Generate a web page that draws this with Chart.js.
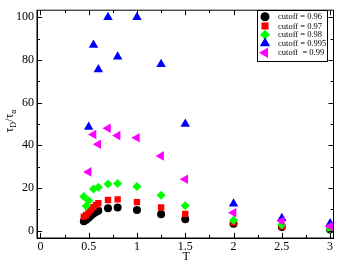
<!DOCTYPE html>
<html>
<head>
<meta charset="utf-8">
<script src="https://cdn.jsdelivr.net/npm/chart.js@4.4.1/dist/chart.umd.min.js"></script>
<style>
  html, body { margin: 0; padding: 0; background: #fff; overflow: hidden; }
  canvas { display: block; }
</style>
</head>
<body>
<canvas id="scatter" width="339" height="262"></canvas>
<script>
// temperatures and tau_D / tau_alpha for each cutoff
var tDense = [0.45, 0.475, 0.5, 0.525, 0.55, 0.575, 0.6, 0.7, 0.8, 1.0, 1.25, 1.5, 2, 2.5, 3];
var cut096 = [4.3, 5, 6, 7, 8, 8.7, 9.3, 10.5, 10.8, 9.6, 7.6, 5.3, 3.2, 1.6, 0.5];
var cut097 = [6.5, 7.3, 8.5, 9.8, 11, 12, 12.8, 14.3, 14.6, 13.3, 10.8, 7.8, 3.7, 2, 0.8];
var tGreen = [0.45, 0.475, 0.5, 0.55, 0.6, 0.7, 0.8, 1.0, 1.25, 1.5, 2, 2.5, 3];
var cut098 = [16, 11.5, 14, 19.5, 20.3, 21.8, 22.1, 20.6, 16.6, 11.6, 4.8, 2.7, 0.8];
var tSparse = [0.5, 0.55, 0.6, 0.7, 0.8, 1.0, 1.25, 1.5, 2, 2.5, 3];
var cut0995 = [48.5, 87, 75.5, 100, 81.5, 100, 78, 50, 12.5, 5.8, 3.3];
var cut099 = [27.5, 45, 40.5, 48, 44.5, 43.5, 35, 24, 8.3, 4.5, 2];

var labels = ["cutoff = 0.96", "cutoff = 0.97", "cutoff = 0.98", "cutoff = 0.995", "cutoff  = 0.99"];
var xMajor = [0, 0.5, 1, 1.5, 2, 2.5, 3];
var xMinor = [0.25, 0.75, 1.25, 1.75, 2.25, 2.75];
var yMajor = [0, 20, 40, 60, 80, 100];
var yMinor = [10, 30, 50, 70, 90];

var serif = "'Liberation Serif', 'DejaVu Serif', serif";

function pts(xs, ys){
	var result = [];
	for (var i in xs){
		result.push({x: xs[i], y: ys[i]});
	}
	return result;
}

// inward ticks on all four sides, closed frame, axis titles and the boxed legend
var framePlugin = {
	id: 'frame',
	afterDraw: function(chart){
		var ctx = chart.ctx;
		var a = chart.chartArea;
		var xs = chart.scales.x, ys = chart.scales.y;
		ctx.save();
		ctx.strokeStyle = "#000";
		ctx.lineWidth = 1;
		ctx.strokeRect(a.left, a.top, a.right - a.left, a.bottom - a.top);
		ctx.beginPath();
		function xt(v, len){
			var px = Math.round(xs.getPixelForValue(v)) + 0.5;
			ctx.moveTo(px, a.bottom); ctx.lineTo(px, a.bottom - len);
			ctx.moveTo(px, a.top); ctx.lineTo(px, a.top + len);
		}
		function yt(v, len){
			var py = Math.round(ys.getPixelForValue(v)) + 0.5;
			ctx.moveTo(a.left, py); ctx.lineTo(a.left + len, py);
			ctx.moveTo(a.right, py); ctx.lineTo(a.right - len, py);
		}
		xMajor.forEach(function(v){ xt(v, 5); });
		xMinor.forEach(function(v){ xt(v, 3); });
		yMajor.forEach(function(v){ yt(v, 5); });
		yMinor.forEach(function(v){ yt(v, 3); });
		ctx.stroke();

		// x title
		ctx.fillStyle = "#000";
		ctx.font = "12px " + serif;
		ctx.textAlign = "center";
		ctx.textBaseline = "alphabetic";
		ctx.fillText("T", (a.left + a.right) / 2 + 1, 260);

		// y title tau_D / tau_alpha
		ctx.save();
		ctx.translate(13, 121);
		ctx.rotate(-Math.PI / 2);
		var big = "12px " + serif, small = "8px " + serif;
		var parts = [["τ", big, 0], ["D", small, 3], ["/τ", big, 0], ["α", small, 3]];
		var w = 0;
		parts.forEach(function(p){ ctx.font = p[1]; w += ctx.measureText(p[0]).width; });
		var cx = -w / 2;
		ctx.textAlign = "left";
		parts.forEach(function(p){
			ctx.font = p[1];
			ctx.fillText(p[0], cx, p[2]);
			cx += ctx.measureText(p[0]).width;
		});
		ctx.restore();

		// legend
		var lx = 257, ly = 10, lw = 70, lh = 51;
		ctx.fillStyle = "#fff";
		ctx.fillRect(lx, ly, lw, lh);
		ctx.strokeStyle = "#000";
		ctx.lineWidth = 1;
		ctx.strokeRect(lx + 0.5, ly + 0.5, lw, lh);
		var rows = [16.7, 26, 34.7, 43.3, 52.7];
		chart.data.datasets.forEach(function(ds, i){
			ctx.fillStyle = ds.backgroundColor;
			ctx.strokeStyle = ds.borderColor;
			if (Chart.helpers && Chart.helpers.drawPoint){
				Chart.helpers.drawPoint(ctx, {
					pointStyle: ds.pointStyle,
					rotation: ds.rotation || 0,
					radius: ds.pointRadius + 0.5,
					borderWidth: 0
				}, 265, rows[i]);
			}
			ctx.fillStyle = "#000";
			ctx.font = "8.5px " + serif;
			ctx.textAlign = "left";
			ctx.textBaseline = "middle";
			ctx.fillText(ds.label, 278, rows[i] + 0.5);
		});
		ctx.restore();
	}
};

function series(label, xs, ys, color, style, radius, order, rotation){
	return {
		label: label,
		data: pts(xs, ys),
		backgroundColor: color,
		borderColor: color,
		borderWidth: 0,
		pointStyle: style,
		pointRadius: radius,
		pointHoverRadius: radius,
		rotation: rotation || 0,
		order: order,
		showLine: false
	};
}

var ctx = document.getElementById("scatter").getContext("2d");
var chart = new Chart(ctx, {
	type: 'scatter',
	data: {
		datasets: [
			series(labels[0], tDense, cut096, "#000000", "circle", 4, 5),
			series(labels[1], tDense, cut097, "#ff0000", "rect", 4.5, 4),
			series(labels[2], tGreen, cut098, "#00ff00", "rectRot", 4.5, 3),
			series(labels[3], tSparse, cut0995, "#0000ff", "triangle", 5.5, 2),
			series(labels[4], tSparse, cut099, "#ff00ff", "triangle", 5.5, 1, -90)
		]
	},
	plugins: [framePlugin],
	options: {
		responsive: false,
		maintainAspectRatio: false,
		animation: false,
		devicePixelRatio: 1,
		layout: { padding: { top: 1, right: 3, left: 0, bottom: 0 } },
		plugins: { legend: { display: false }, tooltip: { enabled: false } },
		scales: {
			x: {
				type: 'linear',
				min: -0.035,
				max: 3.035,
				afterBuildTicks: function(scale){ scale.ticks = xMajor.map(function(v){ return {value: v}; }); },
				afterFit: function(scale){ scale.height = 24; },
				grid: { display: false, drawTicks: false },
				border: { display: true, color: "#000", width: 1 },
				ticks: {
					color: "#000",
					font: { family: serif, size: 12 },
					padding: 2,
					maxRotation: 0,
					autoSkip: false,
					callback: function(v){ return String(v); }
				}
			},
			y: {
				type: 'linear',
				min: -3.5,
				max: 103.3,
				afterBuildTicks: function(scale){ scale.ticks = yMajor.map(function(v){ return {value: v}; }); },
				afterFit: function(scale){ scale.width = 37; },
				grid: { display: false, drawTicks: false },
				border: { display: true, color: "#000", width: 1 },
				ticks: {
					color: "#000",
					font: { family: serif, size: 12 },
					padding: 3,
					autoSkip: false,
					callback: function(v){ return String(v); }
				}
			}
		}
	}
});
</script>
</body>
</html>
